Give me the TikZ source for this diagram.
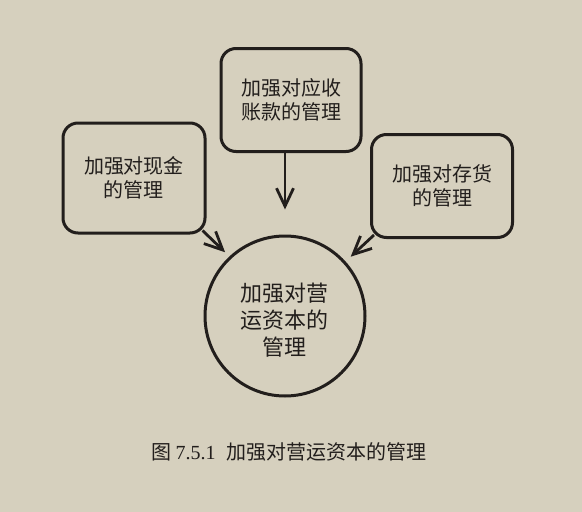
\documentclass[tikz,border=0pt]{standalone}
\usepackage{fontspec}
\newfontfamily\cjk{Noto Sans CJK SC}
\newfontfamily\latserif{Liberation Serif}
\usetikzlibrary{arrows.meta}
\definecolor{paper}{RGB}{214,208,190}
\definecolor{ink}{RGB}{34,30,28}
\begin{document}
\begin{tikzpicture}[x=1pt,y=-1pt,
  box/.style={draw=ink,line width=3pt,rounded corners=15pt,inner sep=0pt,
    text=ink,font=\cjk\fontsize{20}{24}\selectfont,align=center},
  hub/.style={draw=ink,line width=3pt,circle,minimum size=160pt,inner sep=0pt},
  hubtext/.style={text=ink,font=\cjk\fontsize{22}{27}\selectfont,align=center},
  arr/.style={draw=ink,line width=2.8pt,-{Straight Barb[length=18pt,width=17pt,line width=2.8pt]}},
  captext/.style={text=ink,font=\cjk\fontsize{20}{24}\selectfont,inner sep=0pt}]
\fill[paper] (0,0) rectangle (582,512);
\useasboundingbox (0,0) rectangle (582,512);
\node[box,minimum width=140pt,minimum height=103pt] (tbox) at (291,100) {加强对应收\\账款的管理};
\node[box,minimum width=142pt,minimum height=110pt] (lbox) at (134,178) {加强对现金\\的管理};
\node[box,minimum width=141pt,minimum height=103pt] (rbox) at (442,186) {加强对存货\\的管理};
\node[hub] (circ) at (285,316) {};
\node[hubtext] (ctext) at (284,320) {加强对营\\运资本的\\管理};
\draw[arr,shorten >=25pt] (tbox.south -| circ.north) -- (circ.north);
\draw[arr,shorten >=6pt] ([shift={(-4,-4)}]lbox.south east) -- (circ.133.5);
\draw[arr,shorten >=7pt] ([shift={(4,-4)}]rbox.south west) -- (circ.42);
\node[captext,anchor=west] (caption) at (151,452) {图 {\latserif 7.5.1}\hspace{11pt}加强对营运资本的管理};
\end{tikzpicture}
\end{document}
